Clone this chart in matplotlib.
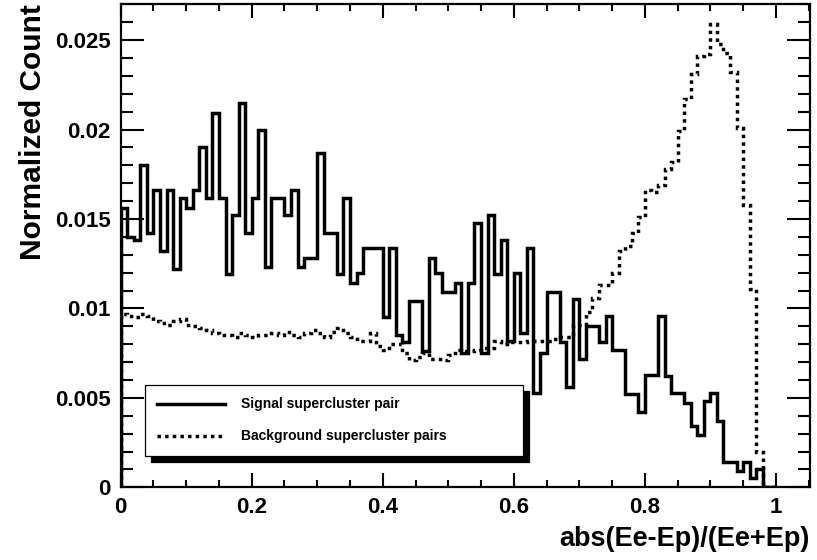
import numpy as np
import matplotlib
matplotlib.use("Agg")
from matplotlib import pyplot as plt
from matplotlib.ticker import MultipleLocator, FuncFormatter

plt.rcParams['font.family'] = ['Liberation Sans', 'DejaVu Sans']
plt.rcParams['font.weight'] = 'bold'

# 100 bins of width 0.01 on [0, 1]
binEdges = np.linspace(0.0, 1.0, 101)

# Signal supercluster pair, normalized counts per bin
signalCounts = [
    0.0156, 0.0140, 0.0138, 0.0180, 0.0142, 0.0166, 0.0132, 0.0166, 0.0122, 0.0162,
    0.0156, 0.0166, 0.0190, 0.0162, 0.0209, 0.0162, 0.0119, 0.0152, 0.0215, 0.0142,
    0.0162, 0.0200, 0.0123, 0.0162, 0.0162, 0.0152, 0.0166, 0.0123, 0.0128, 0.0128,
    0.0187, 0.0142, 0.0142, 0.0119, 0.0162, 0.0114, 0.0120, 0.0134, 0.0134, 0.0134,
    0.0095, 0.0134, 0.0085, 0.0081, 0.0104, 0.0104, 0.0076, 0.0128, 0.0120, 0.0109,
    0.0109, 0.0114, 0.0075, 0.0114, 0.0148, 0.0075, 0.0152, 0.0119, 0.0138, 0.0082,
    0.0120, 0.0086, 0.0134, 0.0053, 0.0075, 0.0109, 0.0109, 0.0081, 0.0056, 0.0105,
    0.0072, 0.0090, 0.0090, 0.0081, 0.0096, 0.0077, 0.0077, 0.0052, 0.0052, 0.0042,
    0.0063, 0.0063, 0.0096, 0.0062, 0.0053, 0.0053, 0.0047, 0.0034, 0.0029, 0.0048,
    0.0053, 0.0037, 0.0014, 0.0014, 0.0009, 0.0014, 0.0005, 0.0010, 0.0, 0.0,
]

# Background supercluster pairs, normalized counts per bin
backgroundCounts = [
    0.0097, 0.0096, 0.0095, 0.0097, 0.0096, 0.0093, 0.0092, 0.0091, 0.0093, 0.0094,
    0.0091, 0.0090, 0.0089, 0.0088, 0.0086, 0.0085, 0.0085, 0.0084, 0.0086, 0.0085,
    0.0084, 0.0085, 0.0085, 0.0086, 0.0085, 0.0087, 0.0085, 0.0084, 0.0086, 0.0088,
    0.0086, 0.0084, 0.0087, 0.0089, 0.0086, 0.0084, 0.0082, 0.0082, 0.0086, 0.0079,
    0.0077, 0.0080, 0.0080, 0.0075, 0.0071, 0.0073, 0.0075, 0.0072, 0.0072, 0.0071,
    0.0074, 0.0077, 0.0076, 0.0076, 0.0077, 0.0078, 0.0078, 0.0082, 0.0080, 0.0081,
    0.0081, 0.0081, 0.0082, 0.0082, 0.0082, 0.0082, 0.0083, 0.0084, 0.0084, 0.0091,
    0.0091, 0.0098, 0.0106, 0.0113, 0.0113, 0.0120, 0.0132, 0.0135, 0.0142, 0.0151,
    0.0166, 0.0165, 0.0169, 0.0178, 0.0182, 0.0199, 0.0217, 0.0231, 0.0241, 0.0242,
    0.0259, 0.0248, 0.0243, 0.0232, 0.0201, 0.0158, 0.0111, 0.0020, 0.0, 0.0,
]

signalLabel = 'Signal supercluster pair'
backgroundLabel = 'Background supercluster pairs'


def chartHistograms():
    fig = plt.figure(figsize=(8.17, 5.6), dpi=100)
    ax = fig.add_axes([0.1477, 0.1298, 0.8437, 0.8625])

    ax.stairs(signalCounts, binEdges, baseline=0, color='black', linewidth=2.5,
              label=signalLabel)
    ax.stairs(backgroundCounts, binEdges, baseline=0, color='black', linewidth=2.5,
              linestyle=(0, (1.0, 1.2)), label=backgroundLabel)

    ax.set_xlim(0, 1.052)
    ax.set_ylim(0, 0.027)

    ax.xaxis.set_major_locator(MultipleLocator(0.2))
    ax.xaxis.set_minor_locator(MultipleLocator(0.05))
    ax.yaxis.set_major_locator(MultipleLocator(0.005))
    ax.yaxis.set_minor_locator(MultipleLocator(0.001))
    fmt = FuncFormatter(lambda v, p: f'{v:g}')
    ax.xaxis.set_major_formatter(fmt)
    ax.yaxis.set_major_formatter(fmt)

    ax.tick_params(which='both', direction='in', top=True, right=True,
                   width=1.5, labelsize=16)
    ax.tick_params(axis='x', which='major', length=10, pad=7)
    ax.tick_params(axis='x', which='minor', length=4.7)
    ax.tick_params(axis='y', which='major', length=16.5, pad=7)
    ax.tick_params(axis='y', which='minor', length=8.6)

    for spine in ax.spines.values():
        spine.set_linewidth(1.6)

    ax.set_xlabel('abs(Ee-Ep)/(Ee+Ep)', fontsize=19.5, fontweight='bold',
                  loc='right', labelpad=6)
    ax.set_ylabel('Normalized Count', fontsize=21.5, fontweight='bold',
                  loc='top', labelpad=6)

    leg = ax.legend(loc='upper left', bbox_to_anchor=(0.035, 0.0, 0.549, 0.212),
                    mode='expand', borderaxespad=0, fancybox=False,
                    shadow={'ox': 4.5, 'oy': -4.5, 'facecolor': 'black',
                            'edgecolor': 'black', 'alpha': 1},
                    prop={'size': 10, 'weight': 'bold'},
                    handlelength=4.9, handletextpad=1.1, labelspacing=1.3,
                    borderpad=0.9, framealpha=1)
    leg.get_frame().set_edgecolor('black')
    leg.get_frame().set_linewidth(0.9)

    fig.savefig('out.png', dpi=100)


if (__name__ == "__main__"):
    chartHistograms()
